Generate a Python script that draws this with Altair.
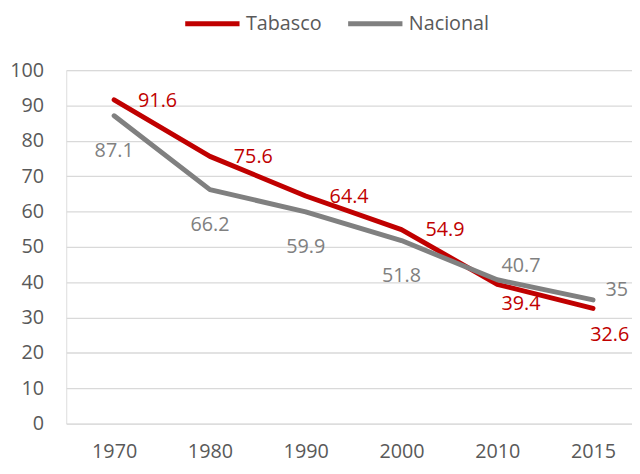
import altair as alt
import pandas as pd

# ---- data ----
years = ["1970", "1980", "1990", "2000", "2010", "2015"]
series_names = ["Tabasco", "Nacional"]
tabasco = [91.6, 75.6, 64.4, 54.9, 39.4, 32.6]
nacional = [87.1, 66.2, 59.9, 51.8, 40.7, 35]
tabasco_text = ["91.6", "75.6", "64.4", "54.9", "39.4", "32.6"]
nacional_text = ["87.1", "66.2", "59.9", "51.8", "40.7", "35"]
tabasco_label_pos = ["right", "right", "right", "right", "below_right", "low_right"]
nacional_label_pos = ["below", "below", "below", "below", "above_right", "high_right"]
y_ticks = [0, 10, 20, 30, 40, 50, 60, 70, 80, 90, 100]

# ---- styles ----
colors = ["#C00000", "#808080"]
FONT = "Open Sans"
FS = 20
TEXT_GREY = "#595959"
LABEL_OFFSETS = {
    "right": (44, 1),
    "below": (0, 36),
    "above_right": (24, -14),
    "below_right": (24, 20),
    "low_right": (17, 27),
    "high_right": (24, -10),
}

rows = []
for name, vals, texts, poss in [
    ("Tabasco", tabasco, tabasco_text, tabasco_label_pos),
    ("Nacional", nacional, nacional_text, nacional_label_pos),
]:
    for yr, v, t, p in zip(years, vals, texts, poss):
        rows.append({"series": name, "year": yr, "value": v, "label": t, "pos": p})
df = pd.DataFrame(rows)

x_enc = alt.X(
    "year:O",
    sort=years,
    scale=alt.Scale(type="point", padding=0.5, range=[0, 582]),
    axis=alt.Axis(
        title=None, domain=False, ticks=False, tickSize=0, grid=False,
        labelAngle=0, labelFontSize=FS, labelColor=TEXT_GREY, labelFont=FONT,
        labelPadding=34, labelBaseline="alphabetic",
    ),
)
y_enc = alt.Y(
    "value:Q",
    scale=alt.Scale(domain=[0, 100], nice=False, zero=True),
    axis=alt.Axis(
        title=None, domain=False, ticks=False, tickSize=0, values=y_ticks,
        grid=True, gridColor="#D9D9D9", gridWidth=1.3,
        labelFontSize=FS, labelColor=TEXT_GREY, labelFont=FONT,
        labelPadding=23, labelBaseline="middle",
    ),
)
color_scale = alt.Scale(domain=series_names, range=colors)

lines = alt.Chart(df).mark_line(strokeWidth=5, strokeCap="round", strokeJoin="round").encode(
    x=x_enc,
    y=y_enc,
    color=alt.Color(
        "series:N",
        scale=color_scale,
        sort=series_names,
        legend=alt.Legend(
            title=None, orient="none", direction="horizontal",
            legendX=118, legendY=-77,
            symbolType="stroke", symbolSize=3025, symbolStrokeWidth=5,
            labelFontSize=FS, labelColor=TEXT_GREY, labelFont=FONT,
            labelOffset=4, columnPadding=16,
        ),
    ),
    order=alt.Order("series_order:Q"),
).transform_calculate(series_order="datum.series == 'Tabasco' ? 0 : 1")

layers = [lines]
for pos, (dx, dy) in LABEL_OFFSETS.items():
    layers.append(
        alt.Chart(df)
        .transform_filter(alt.datum.pos == pos)
        .mark_text(dx=dx, dy=dy, fontSize=FS, font=FONT, align="center", baseline="middle")
        .encode(
            x=x_enc,
            y=y_enc,
            text="label:N",
            color=alt.Color("series:N", scale=color_scale, legend=None),
        )
    )

chart = (
    alt.layer(*layers)
    .properties(
        width=573,
        height=358,
        autosize=alt.AutoSizeParams(type="none"),
        padding={"left": 59, "top": 60, "right": 0, "bottom": 40},
        background="white",
    )
    .configure_view(stroke=None)
    .configure(font=FONT)
)

chart.save("out.html", embed_options={"renderer": "svg", "actions": False})
